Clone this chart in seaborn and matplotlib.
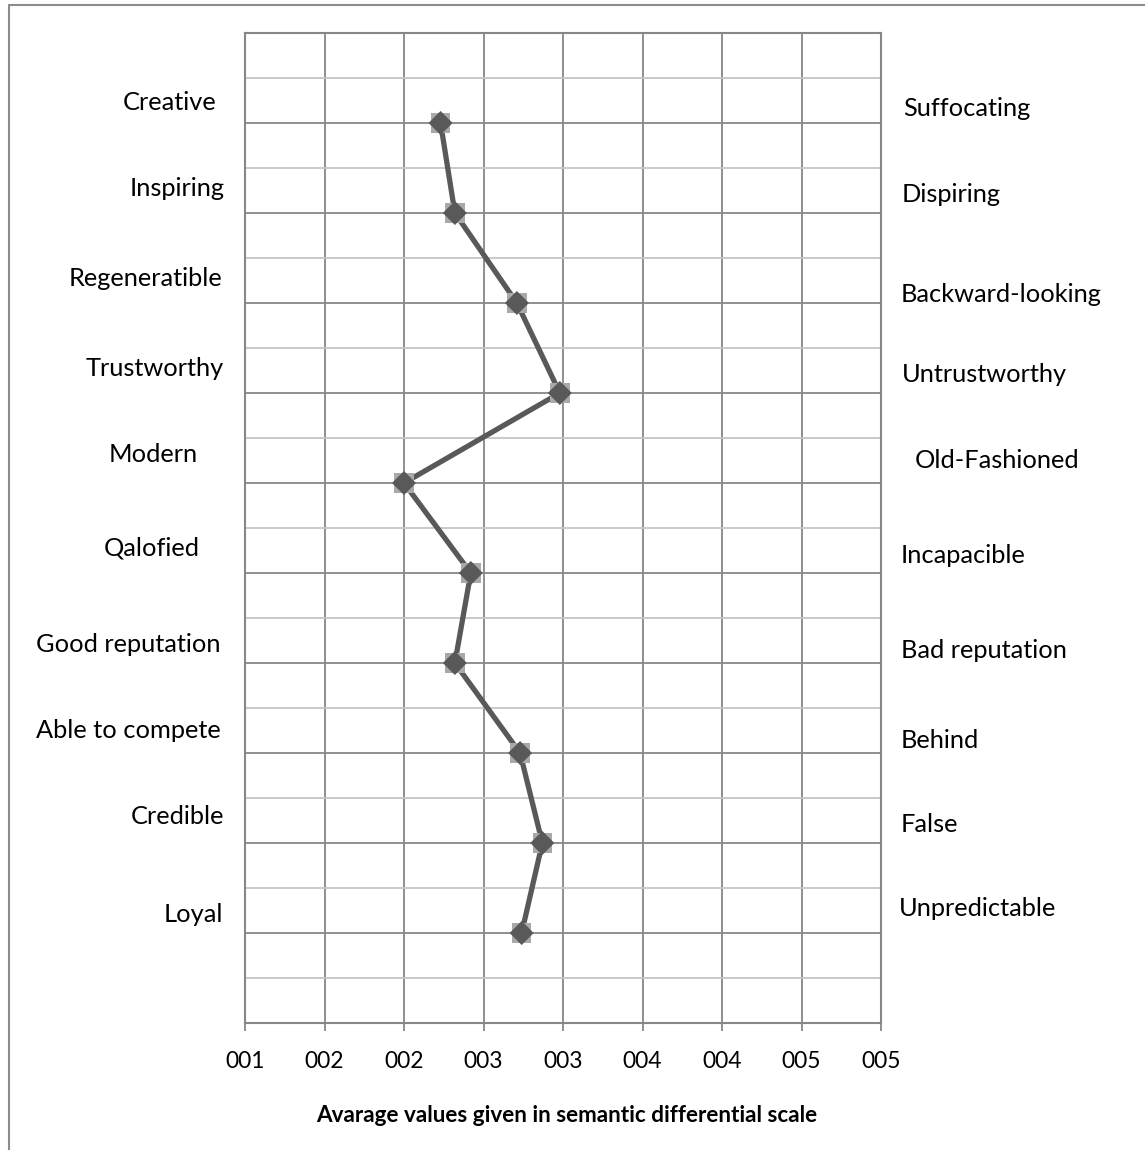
import matplotlib
matplotlib.use("Agg")
import matplotlib.pyplot as plt
from matplotlib.ticker import FixedLocator, MultipleLocator
import seaborn as sns
import pandas as pd

# Semantic differential: positive pole (left), negative pole (right), mean score
positive_terms = ["Creative", "Inspiring", "Regeneratible", "Trustworthy", "Modern",
                  "Qalofied", "Good reputation", "Able to compete", "Credible", "Loyal"]
negative_terms = ["Suffocating", "Dispiring", "Backward-looking", "Untrustworthy", "Old-Fashioned",
                  "Incapacible", "Bad reputation", "Behind", "False", "Unpredictable"]
mean_scores = [2.23, 2.32, 2.71, 2.98, 2.00, 2.42, 2.32, 2.73, 2.87, 2.74]
row_positions = [10, 9, 8, 7, 6, 5, 4, 3, 2, 1]

x_ticks = [1.0, 1.5, 2.0, 2.5, 3.0, 3.5, 4.0, 4.5, 5.0]
x_tick_labels = ["001", "002", "002", "003", "003", "004", "004", "005", "005"]
x_title = "Avarage values given in semantic differential scale"

df = pd.DataFrame({"term": positive_terms, "score": mean_scores, "row": row_positions})

W, H = 1145, 1150
sns.set_theme(style="white")
plt.rcParams["font.family"] = ["Lato", "DejaVu Sans"]

fig = plt.figure(figsize=(W / 100, H / 100), dpi=100)
ax = fig.add_axes([245 / W, 1 - 1023 / H, (881 - 245) / W, (1023 - 33) / H])

GRID_DARK = "#878787"
GRID_LIGHT = "#c6c6c6"
LINE = "#595959"

ax.set_xlim(1, 5)
ax.set_ylim(0, 11)
ax.xaxis.set_major_locator(FixedLocator(x_ticks))
ax.set_xticklabels(x_tick_labels)
ax.yaxis.set_major_locator(MultipleLocator(1))
ax.yaxis.set_minor_locator(MultipleLocator(0.5))
ax.set_yticklabels([])
ax.grid(axis="x", which="major", color=GRID_DARK, lw=1.3)
ax.grid(axis="y", which="major", color=GRID_DARK, lw=1.3)
ax.grid(axis="y", which="minor", color=GRID_LIGHT, lw=1.3)
ax.set_axisbelow(True)
for s in ax.spines.values():
    s.set_color(GRID_DARK)
    s.set_linewidth(1.5)
ax.tick_params(axis="x", which="major", direction="out", length=6, width=1.3,
               color=GRID_DARK, labelsize=16.5, pad=14, labelcolor="black", bottom=True)
ax.tick_params(axis="y", which="both", length=0, left=False)

sns.lineplot(data=df, x="score", y="row", sort=False, orient="y", ax=ax,
             color=LINE, lw=3.8, zorder=3)
sns.scatterplot(data=df, x="score", y="row", ax=ax, marker="s", s=200,
                color="#a9a9a9", edgecolor="none", zorder=4)
sns.scatterplot(data=df, x="score", y="row", ax=ax, marker="D", s=150,
                color=LINE, edgecolor="none", zorder=5)
ax.set_xlabel("")
ax.set_ylabel("")

# pole labels placed beside each row (pixel coordinates)
left_right_edge = [217, 225, 222, 224, 198, 200, 221, 221, 224, 223]
left_y = [102, 189, 279, 368, 455, 548, 645, 731, 816, 914]
right_left_edge = [903, 902, 901, 902, 915, 901, 901, 901, 901, 899]
right_y = [108, 195, 294, 375, 460, 556, 651, 740, 825, 909]
for t, xr, yy in zip(positive_terms, left_right_edge, left_y):
    fig.text(xr / W, 1 - yy / H, t, ha="right", va="center", fontsize=18.3, color="black")
for t, xl, yy in zip(negative_terms, right_left_edge, right_y):
    fig.text(xl / W, 1 - yy / H, t, ha="left", va="center", fontsize=18.3, color="black")

fig.text(567 / W, 1 - 1116 / H, x_title, ha="center", va="center",
         fontsize=16.2, fontweight="bold", color="black")

# chart-area frame (left and top edges)
fig.add_artist(plt.Line2D([8.5 / W, 8.5 / W], [0, 1 - 5 / H], color="#8c8c8c", lw=1.5))
fig.add_artist(plt.Line2D([8.5 / W, 1], [1 - 5 / H, 1 - 5 / H], color="#8c8c8c", lw=1.5))

fig.savefig("out.png", dpi=100)
